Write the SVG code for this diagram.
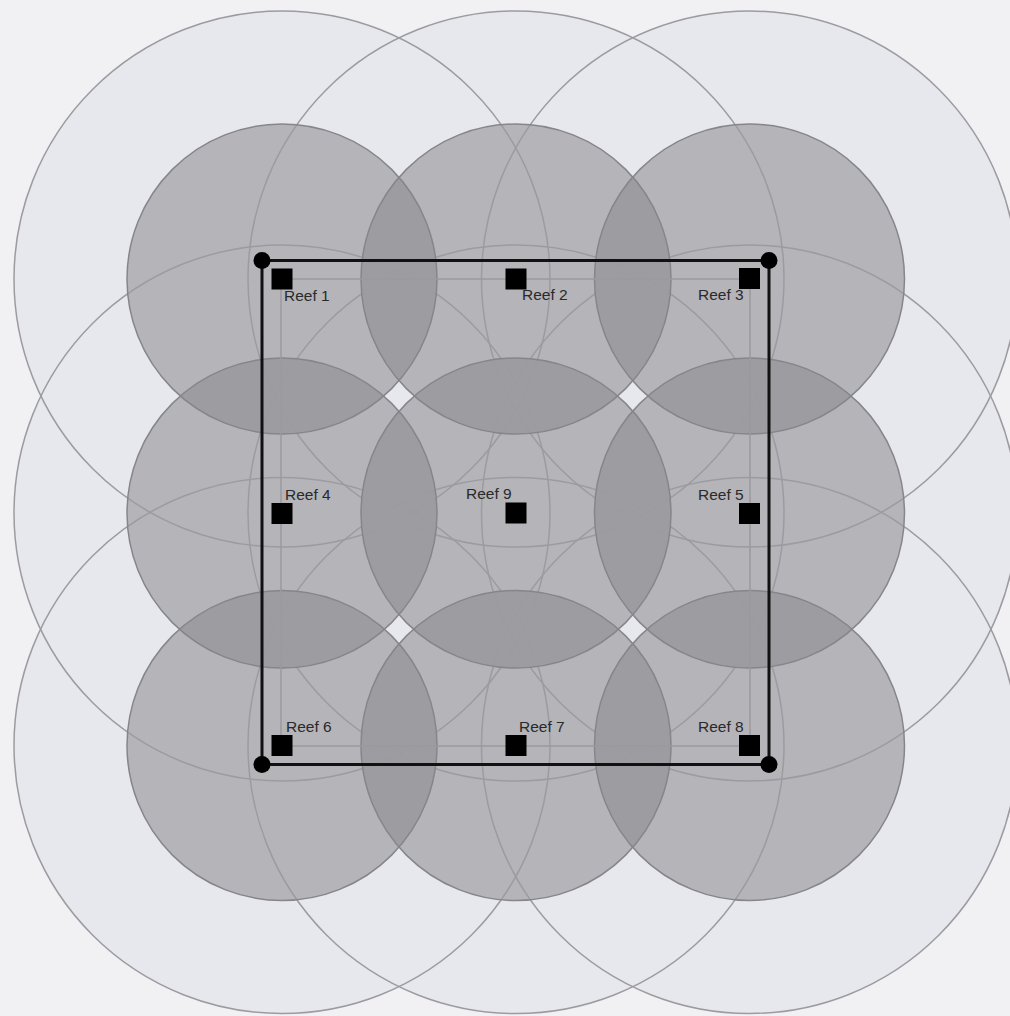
<svg xmlns="http://www.w3.org/2000/svg" width="1010" height="1016" viewBox="0 0 1010 1016">
  <style>
    .lf { fill: #e7e7ee; stroke: none; }
    .df { fill: #8a8a8e; fill-opacity: 0.55; stroke: none; }
    .ls { fill: none; stroke: #9c9ca0; stroke-width: 1.5; }
    .ds { fill: none; stroke: #86868a; stroke-width: 1.5; }
    .reef { fill: #000; }
    .lbl { font-family: "Liberation Sans", Arial, sans-serif; font-size: 15.5px; fill: #2a2a2a; }
    .dot { fill: #000; }
  </style>
  <defs>
    <circle id="big" r="268"/>
    <circle id="small" r="155"/>
  </defs>
  <rect x="0" y="0" width="1010" height="1016" fill="#f1f1f4"/>
  <g id="outer-range-fills" class="lf">
    <use href="#big" x="282" y="279"/>
    <use href="#big" x="516" y="279"/>
    <use href="#big" x="749.5" y="279"/>
    <use href="#big" x="282" y="513"/>
    <use href="#big" x="516" y="513"/>
    <use href="#big" x="749.5" y="513"/>
    <use href="#big" x="282" y="745.5"/>
    <use href="#big" x="516" y="745.5"/>
    <use href="#big" x="749.5" y="745.5"/>
  </g>
  <g id="inner-range-fills" class="df">
    <use href="#small" x="282" y="279"/>
    <use href="#small" x="516" y="279"/>
    <use href="#small" x="749.5" y="279"/>
    <use href="#small" x="282" y="513"/>
    <use href="#small" x="516" y="513"/>
    <use href="#small" x="749.5" y="513"/>
    <use href="#small" x="282" y="745.5"/>
    <use href="#small" x="516" y="745.5"/>
    <use href="#small" x="749.5" y="745.5"/>
  </g>
  <g id="outer-range-outlines" class="ls">
    <use href="#big" x="282" y="279"/>
    <use href="#big" x="516" y="279"/>
    <use href="#big" x="749.5" y="279"/>
    <use href="#big" x="282" y="513"/>
    <use href="#big" x="516" y="513"/>
    <use href="#big" x="749.5" y="513"/>
    <use href="#big" x="282" y="745.5"/>
    <use href="#big" x="516" y="745.5"/>
    <use href="#big" x="749.5" y="745.5"/>
  </g>
  <g id="inner-range-outlines" class="ds">
    <use href="#small" x="282" y="279"/>
    <use href="#small" x="516" y="279"/>
    <use href="#small" x="749.5" y="279"/>
    <use href="#small" x="282" y="513"/>
    <use href="#small" x="516" y="513"/>
    <use href="#small" x="749.5" y="513"/>
    <use href="#small" x="282" y="745.5"/>
    <use href="#small" x="516" y="745.5"/>
    <use href="#small" x="749.5" y="745.5"/>
  </g>
  <g id="connectors">
    <rect x="281" y="279" width="469" height="467" fill="none" stroke="#9a9a9e" stroke-width="1.5"/>
    <rect x="262" y="260.5" width="507" height="504" fill="none" stroke="#111" stroke-width="3"/>
    <circle class="dot" cx="262" cy="260.5" r="8.5"/>
    <circle class="dot" cx="769" cy="260.5" r="8.5"/>
    <circle class="dot" cx="262" cy="764.5" r="8.5"/>
    <circle class="dot" cx="769" cy="764.5" r="8.5"/>
  </g>
  <g id="reef1"><rect class="reef" x="271.5" y="268.5" width="21" height="21"/><text class="lbl" x="284" y="301">Reef 1</text></g>
  <g id="reef2"><rect class="reef" x="505.5" y="268.5" width="21" height="21"/><text class="lbl" x="522" y="300">Reef 2</text></g>
  <g id="reef3"><rect class="reef" x="739" y="268" width="21" height="21"/><text class="lbl" x="698" y="300">Reef 3</text></g>
  <g id="reef4"><rect class="reef" x="271.5" y="503" width="21" height="21"/><text class="lbl" x="285" y="500">Reef 4</text></g>
  <g id="reef9"><rect class="reef" x="505.5" y="502.5" width="21" height="21"/><text class="lbl" x="466" y="499">Reef 9</text></g>
  <g id="reef5"><rect class="reef" x="739" y="503" width="21" height="21"/><text class="lbl" x="698" y="500">Reef 5</text></g>
  <g id="reef6"><rect class="reef" x="271.5" y="735" width="21" height="21"/><text class="lbl" x="286" y="732">Reef 6</text></g>
  <g id="reef7"><rect class="reef" x="505.5" y="735" width="21" height="21"/><text class="lbl" x="519" y="732">Reef 7</text></g>
  <g id="reef8"><rect class="reef" x="739" y="735" width="21" height="21"/><text class="lbl" x="698" y="732">Reef 8</text></g>
</svg>
